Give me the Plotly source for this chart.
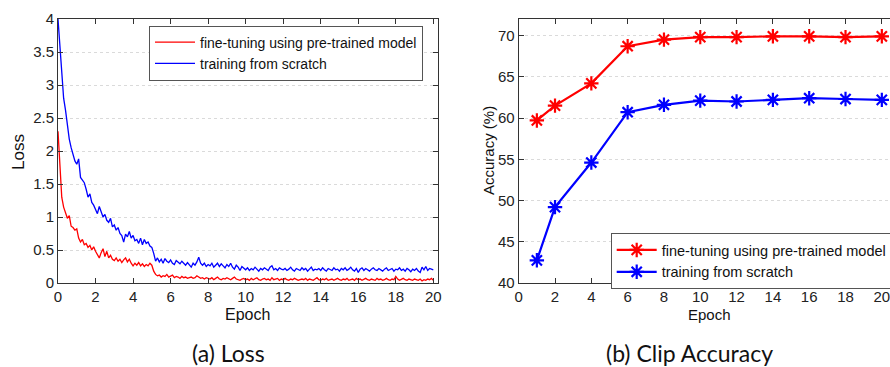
import plotly.graph_objects as go

# ---------------- data: (a) Loss ----------------
loss_epoch = [round(i * 0.1, 1) for i in range(201)]

loss_scratch = [
    4.00, 3.55, 3.20, 2.80, 2.62, 2.35, 2.18, 2.05, 1.95, 1.85,
    1.80, 1.88, 1.60, 1.55, 1.52, 1.42, 1.30, 1.35, 1.22, 1.18,
    1.10, 1.05, 1.16, 1.08, 1.00, 1.04, 0.95, 0.92, 0.98, 0.85,
    0.88, 0.80, 0.84, 0.75, 0.72, 0.62, 0.74, 0.70, 0.78, 0.68,
    0.72, 0.64, 0.66, 0.60, 0.68, 0.58, 0.66, 0.60, 0.62, 0.56,
    0.54, 0.45, 0.33, 0.38, 0.32, 0.36, 0.30, 0.37, 0.33, 0.31,
    0.35, 0.30, 0.28, 0.34, 0.31, 0.29, 0.33, 0.30, 0.27, 0.31,
    0.28, 0.24, 0.30, 0.27, 0.32, 0.39, 0.30, 0.27, 0.30, 0.25,
    0.28, 0.26, 0.30, 0.24, 0.27, 0.30, 0.25, 0.29, 0.26, 0.23,
    0.28, 0.25, 0.30, 0.24, 0.21, 0.27, 0.24, 0.19, 0.25, 0.22,
    0.20,
    0.23, 0.19, 0.22, 0.20, 0.24, 0.21, 0.18, 0.22, 0.20, 0.23,
    0.21, 0.19, 0.24, 0.26, 0.20, 0.22, 0.19, 0.23, 0.21, 0.20,
    0.22, 0.19, 0.21, 0.24, 0.20, 0.18, 0.22, 0.21, 0.19, 0.23,
    0.20, 0.22, 0.18, 0.21, 0.24, 0.19, 0.21, 0.20, 0.22, 0.19,
    0.23, 0.20, 0.18, 0.22, 0.21, 0.19, 0.23, 0.20, 0.21, 0.18,
    0.22, 0.20, 0.23, 0.19, 0.21, 0.24, 0.20, 0.18, 0.22, 0.16,
    0.21, 0.23, 0.19, 0.22, 0.20, 0.18, 0.21, 0.23, 0.20, 0.19,
    0.22, 0.20, 0.18, 0.21, 0.23, 0.19, 0.20, 0.22, 0.18, 0.21,
    0.20, 0.23, 0.19, 0.21, 0.18, 0.22, 0.20, 0.17, 0.21, 0.19,
    0.22, 0.18, 0.16, 0.24, 0.20, 0.25, 0.19, 0.22, 0.21, 0.20,
]

loss_finetune = [
    2.30, 1.70, 1.30, 1.15, 1.05, 0.98, 1.02, 0.86, 0.84, 0.80,
    0.82, 0.68, 0.62, 0.66, 0.58, 0.60, 0.54, 0.57, 0.50, 0.55,
    0.48, 0.42, 0.38, 0.46, 0.52, 0.40, 0.48, 0.38, 0.42, 0.36,
    0.34, 0.38, 0.33, 0.36, 0.31, 0.35, 0.38, 0.32, 0.36, 0.30,
    0.26, 0.30, 0.27, 0.31, 0.26, 0.29, 0.25, 0.28, 0.26, 0.30,
    0.27, 0.18, 0.13, 0.11, 0.12, 0.09, 0.11, 0.10, 0.13, 0.09,
    0.10, 0.12, 0.08, 0.10, 0.09, 0.07, 0.10, 0.08, 0.09, 0.07,
    0.08,
    0.09, 0.07, 0.08, 0.11, 0.09, 0.07, 0.08, 0.06, 0.08, 0.07,
    0.06, 0.08, 0.05, 0.07, 0.09, 0.06, 0.05, 0.07, 0.06, 0.08,
    0.06, 0.05, 0.07, 0.09, 0.06, 0.05, 0.04, 0.06, 0.07, 0.05,
    0.06, 0.04, 0.07, 0.05, 0.06, 0.08, 0.05, 0.04, 0.06, 0.07,
    0.05, 0.06, 0.04, 0.08, 0.05, 0.06, 0.07, 0.04, 0.06, 0.05,
    0.07, 0.05, 0.04, 0.06, 0.05, 0.07, 0.06, 0.04, 0.05, 0.06,
    0.05, 0.07, 0.04, 0.06, 0.05, 0.04, 0.06, 0.08, 0.05, 0.04,
    0.06, 0.05, 0.07, 0.04, 0.05, 0.06, 0.04, 0.05, 0.07, 0.05,
    0.04, 0.06, 0.05, 0.07, 0.04, 0.05, 0.06, 0.04, 0.07, 0.05,
    0.06, 0.04, 0.05, 0.07, 0.05, 0.04, 0.06, 0.05, 0.04, 0.07,
    0.05, 0.06, 0.04, 0.05, 0.07, 0.05, 0.04, 0.06, 0.05, 0.10,
    0.06, 0.04, 0.05, 0.07, 0.05, 0.04, 0.06, 0.05, 0.04, 0.06,
    0.05, 0.04, 0.06, 0.03, 0.05, 0.04, 0.06, 0.05, 0.07, 0.04,
]

# ---------------- data: (b) Clip Accuracy ----------------
acc_epoch = [1, 2, 4, 6, 8, 10, 12, 14, 16, 18, 20]
acc_finetune = [59.7, 61.5, 64.2, 68.7, 69.5, 69.8, 69.8, 69.9, 69.9, 69.8, 69.9]
acc_scratch = [42.75, 49.2, 54.6, 60.7, 61.6, 62.1, 62.0, 62.2, 62.4, 62.3, 62.2]

loss_ticks = [0, 0.5, 1, 1.5, 2, 2.5, 3, 3.5, 4]
loss_ticktext = ["0", "0.5", "1", "1.5", "2", "2.5", "3", "3.5", "4"]
epoch_ticks = [0, 2, 4, 6, 8, 10, 12, 14, 16, 18, 20]
acc_ticks = [40, 45, 50, 55, 60, 65, 70]

name_ft = "fine-tuning using pre-trained model"
name_sc = "training from scratch"
RED = "#ff0000"
BLUE = "#0000ff"

W, H = 890, 367
ARIAL = "Liberation Sans, Arial, sans-serif"
TICKFONT = dict(family=ARIAL, size=15, color="#222222")

fig = go.Figure()

fig.add_trace(go.Scatter(x=loss_epoch, y=loss_finetune, mode="lines", name=name_ft,
                         line=dict(color=RED, width=1.3), xaxis="x", yaxis="y",
                         legend="legend"))
fig.add_trace(go.Scatter(x=loss_epoch, y=loss_scratch, mode="lines", name=name_sc,
                         line=dict(color=BLUE, width=1.3), xaxis="x", yaxis="y",
                         legend="legend"))

fig.add_trace(go.Scatter(x=acc_epoch, y=acc_finetune, mode="lines+markers", name=name_ft,
                         line=dict(color=RED, width=2.2),
                         marker=dict(symbol="asterisk-open", size=12,
                                     line=dict(color=RED, width=2.2)),
                         xaxis="x2", yaxis="y2", legend="legend2"))
fig.add_trace(go.Scatter(x=acc_epoch, y=acc_scratch, mode="lines+markers", name=name_sc,
                         line=dict(color=BLUE, width=2.2),
                         marker=dict(symbol="asterisk-open", size=12,
                                     line=dict(color=BLUE, width=2.2)),
                         xaxis="x2", yaxis="y2", legend="legend2"))

def px_x(p):
    return p / W

def px_y(p):
    return 1 - p / H

axcommon = dict(showline=True, linecolor="#333333", linewidth=1, ticks="inside",
                ticklen=5, tickcolor="#333333", tickfont=TICKFONT, zeroline=False,
                ticklabeloverflow="allow")

fig.update_layout(
    width=W, height=H,
    margin=dict(l=0, r=0, t=0, b=0, autoexpand=False),
    paper_bgcolor="white", plot_bgcolor="white",
    showlegend=True,
    xaxis=dict(domain=[px_x(58), px_x(438)], range=[0, 20.25], tickvals=epoch_ticks,
               mirror="ticks", showgrid=False, anchor="y", **axcommon),
    yaxis=dict(domain=[px_y(283), px_y(19)], range=[0, 4], tickvals=loss_ticks,
               ticktext=loss_ticktext, mirror="ticks", showgrid=True,
               gridcolor="#dadada", griddash="dot", gridwidth=1, anchor="x", **axcommon),
    xaxis2=dict(domain=[px_x(518.7), 1.0], range=[0, 20.45], tickvals=epoch_ticks,
                mirror="ticks", showgrid=False, anchor="y2", **axcommon),
    yaxis2=dict(domain=[px_y(283), px_y(19)], range=[40, 72], tickvals=acc_ticks,
                mirror=False, showgrid=True, gridcolor="#dadada", griddash="dot",
                gridwidth=1, anchor="x2", **axcommon),
    legend=dict(x=px_x(149), y=px_y(25.5), xanchor="left", yanchor="top",
                bgcolor="white", bordercolor="#555555", borderwidth=1,
                font=dict(family=ARIAL, size=14, color="#111111"),
                tracegroupgap=0, itemwidth=40),
    legend2=dict(x=px_x(610.7), y=px_y(233), xanchor="left", yanchor="top",
                 bgcolor="white", bordercolor="#555555", borderwidth=1,
                 font=dict(family=ARIAL, size=14.5, color="#111111"),
                 tracegroupgap=0, itemwidth=40),
)

ann_font = dict(family=ARIAL, color="#111111")
annotations = [
    dict(text="Loss", x=px_x(18), y=px_y(152), textangle=-90, font=dict(size=17, **ann_font)),
    dict(text="Epoch", x=px_x(247), y=px_y(314), font=dict(size=16, **ann_font)),
    dict(text="Accuracy (%)", x=px_x(488), y=px_y(151), textangle=-90, font=dict(size=15, **ann_font)),
    dict(text="Epoch", x=px_x(709), y=px_y(314), font=dict(size=15, **ann_font)),
    dict(text="(a) Loss", x=px_x(229), y=px_y(353),
         font=dict(family="Lato, sans-serif", size=23, color="#111111")),
    dict(text="(b) Clip Accuracy", x=px_x(689), y=px_y(353),
         font=dict(family="Lato, sans-serif", size=23, color="#111111")),
]
for a in annotations:
    a.update(xref="paper", yref="paper", showarrow=False, xanchor="center", yanchor="middle")
fig.update_layout(annotations=annotations)

fig.write_html("out.html", config={"displayModeBar": False},
               post_script="document.body.style.margin='0';document.body.style.overflow='hidden';")
